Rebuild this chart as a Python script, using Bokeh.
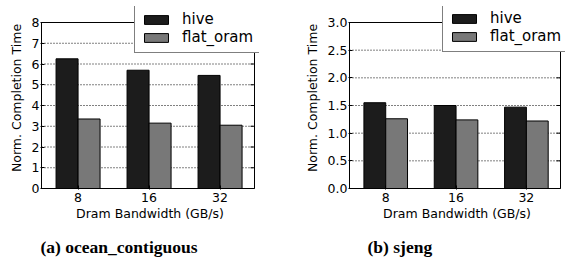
from bokeh.plotting import figure
from bokeh.layouts import row
from bokeh.models import (ColumnDataSource, FixedTicker, Legend, LegendItem, Title,
                          NumeralTickFormatter, BoxAnnotation)
from bokeh.transform import dodge
from bokeh.embed import file_html
from bokeh.resources import INLINE

categories = ["8", "16", "32"]
series = ["hive", "flat_oram"]
ocean_hive = [6.25, 5.70, 5.45]
ocean_flat = [3.35, 3.15, 3.05]
sjeng_hive = [1.55, 1.50, 1.47]
sjeng_flat = [1.26, 1.24, 1.22]
ocean_yticks = [0, 1, 2, 3, 4, 5, 6, 7, 8]
sjeng_yticks = [0.0, 0.5, 1.0, 1.5, 2.0, 2.5, 3.0]

HIVE_C = "#1c1c1c"
FLAT_C = "#787878"
FONT = "DejaVu Sans"

# layout geometry (pixels)
BOX_H = 166          # visible plot box height
EXTRA_TOP = 16       # frame extends above the box so the legend is not clipped
PAD = 1              # frame extends 1px beyond the box left / bottom
PAD_R = 5            # frame extends beyond the box on the right (legend overhang)
TICK = 4
X0, X1 = -0.515, 2.485


def make(hive, flat, ymax, yticks, yfmt, caption, box_w, bl, br, leg_xy, cap_off):
    idx = list(range(len(categories)))
    px_x = (X1 - X0) / box_w
    px_y = ymax / BOX_H
    p = figure(frame_width=box_w + PAD + PAD_R, frame_height=BOX_H + EXTRA_TOP + PAD,
               x_range=(X0 - PAD * px_x, X1 + PAD_R * px_x),
               y_range=(-PAD * px_y, ymax + EXTRA_TOP * px_y),
               output_backend="svg", toolbar_location=None,
               min_border_left=bl, min_border_right=br, min_border_top=6,
               min_border_bottom=0)
    p.outline_line_color = None
    p.xgrid.visible = False
    p.ygrid.visible = False

    # dotted horizontal grid inside the box
    inner = yticks[1:-1]
    gsrc = ColumnDataSource(dict(y=inner, x0=[X0] * len(inner), x1=[X1] * len(inner)))
    p.segment(x0="x0", x1="x1", y0="y", y1="y", source=gsrc, line_color="black",
              line_dash="1 2", line_width=1, level="underlay")

    src = ColumnDataSource(dict(x=idx, hive=hive, flat=flat))
    r1 = p.vbar(x=dodge("x", -0.155), top="hive", width=0.31, source=src,
                fill_color=HIVE_C, line_color="black", line_width=1)
    r2 = p.vbar(x=dodge("x", 0.155), top="flat", width=0.31, source=src,
                fill_color=FLAT_C, line_color="black", line_width=1)

    # right-hand inward ticks
    tsrc = ColumnDataSource(dict(y=yticks, x0=[X1 - TICK * px_x] * len(yticks),
                                 x1=[X1] * len(yticks)))
    p.segment(x0="x0", x1="x1", y0="y", y1="y", source=tsrc, line_color="black",
              line_width=1)

    p.add_layout(BoxAnnotation(left=X0, right=X1, bottom=0, top=ymax,
                               fill_alpha=0, fill_color=None,
                               line_color="black", line_width=1, line_alpha=1))

    for ax in (p.xaxis[0], p.yaxis[0]):
        ax.axis_line_color = None
        ax.major_tick_in = TICK
        ax.major_tick_out = 0
        ax.minor_tick_line_color = None
        ax.major_tick_line_color = "black"
        ax.major_label_text_font = FONT
        ax.major_label_text_font_size = "12.5px"
        ax.major_label_text_color = "black"
        ax.axis_label_text_font = FONT
        ax.axis_label_text_font_size = "12.5px"
        ax.axis_label_text_font_style = "normal"
        ax.axis_label_text_color = "black"

    p.xaxis.ticker = FixedTicker(ticks=idx)
    p.xaxis.major_label_overrides = {i: c for i, c in zip(idx, categories)}
    p.xaxis.axis_label = "Dram Bandwidth (GB/s)"
    p.xaxis.major_label_standoff = 3
    p.xaxis.axis_label_standoff = 1

    p.yaxis.ticker = FixedTicker(ticks=yticks)
    if yfmt:
        p.yaxis.formatter = NumeralTickFormatter(format=yfmt)
    p.yaxis.axis_label = "Norm. Completion Time"
    p.yaxis.major_label_standoff = 1
    p.yaxis.axis_label_standoff = 5

    leg = Legend(items=[LegendItem(label=series[0], renderers=[r1]),
                        LegendItem(label=series[1], renderers=[r2])],
                 location=leg_xy)
    leg.label_text_font = FONT
    leg.label_text_font_size = "15px"
    leg.label_text_color = "black"
    leg.glyph_width = 30
    leg.glyph_height = 11
    leg.label_height = 16
    leg.label_standoff = 11
    leg.spacing = 0
    leg.padding = 6
    leg.margin = 0
    leg.border_line_color = "black"
    leg.border_line_width = 1
    leg.background_fill_alpha = 1
    p.add_layout(leg, "center")

    t = Title(text=caption, align="left", offset=cap_off, standoff=23,
              text_font="Liberation Serif", text_font_size="17.5px",
              text_font_style="bold", text_color="black")
    p.add_layout(t, "below")
    return p


p1 = make(ocean_hive, ocean_flat, 8, ocean_yticks, None, "(a) ocean_contiguous",
          213, 40, 31, (94, 136), 0)
p2 = make(sjeng_hive, sjeng_flat, 3.0, sjeng_yticks, "0.0", "(b) sjeng",
          211, 58, 4, (94, 137), 19)

layout = row(p1, p2)
open("out.html", "w").write(file_html(layout, INLINE))
